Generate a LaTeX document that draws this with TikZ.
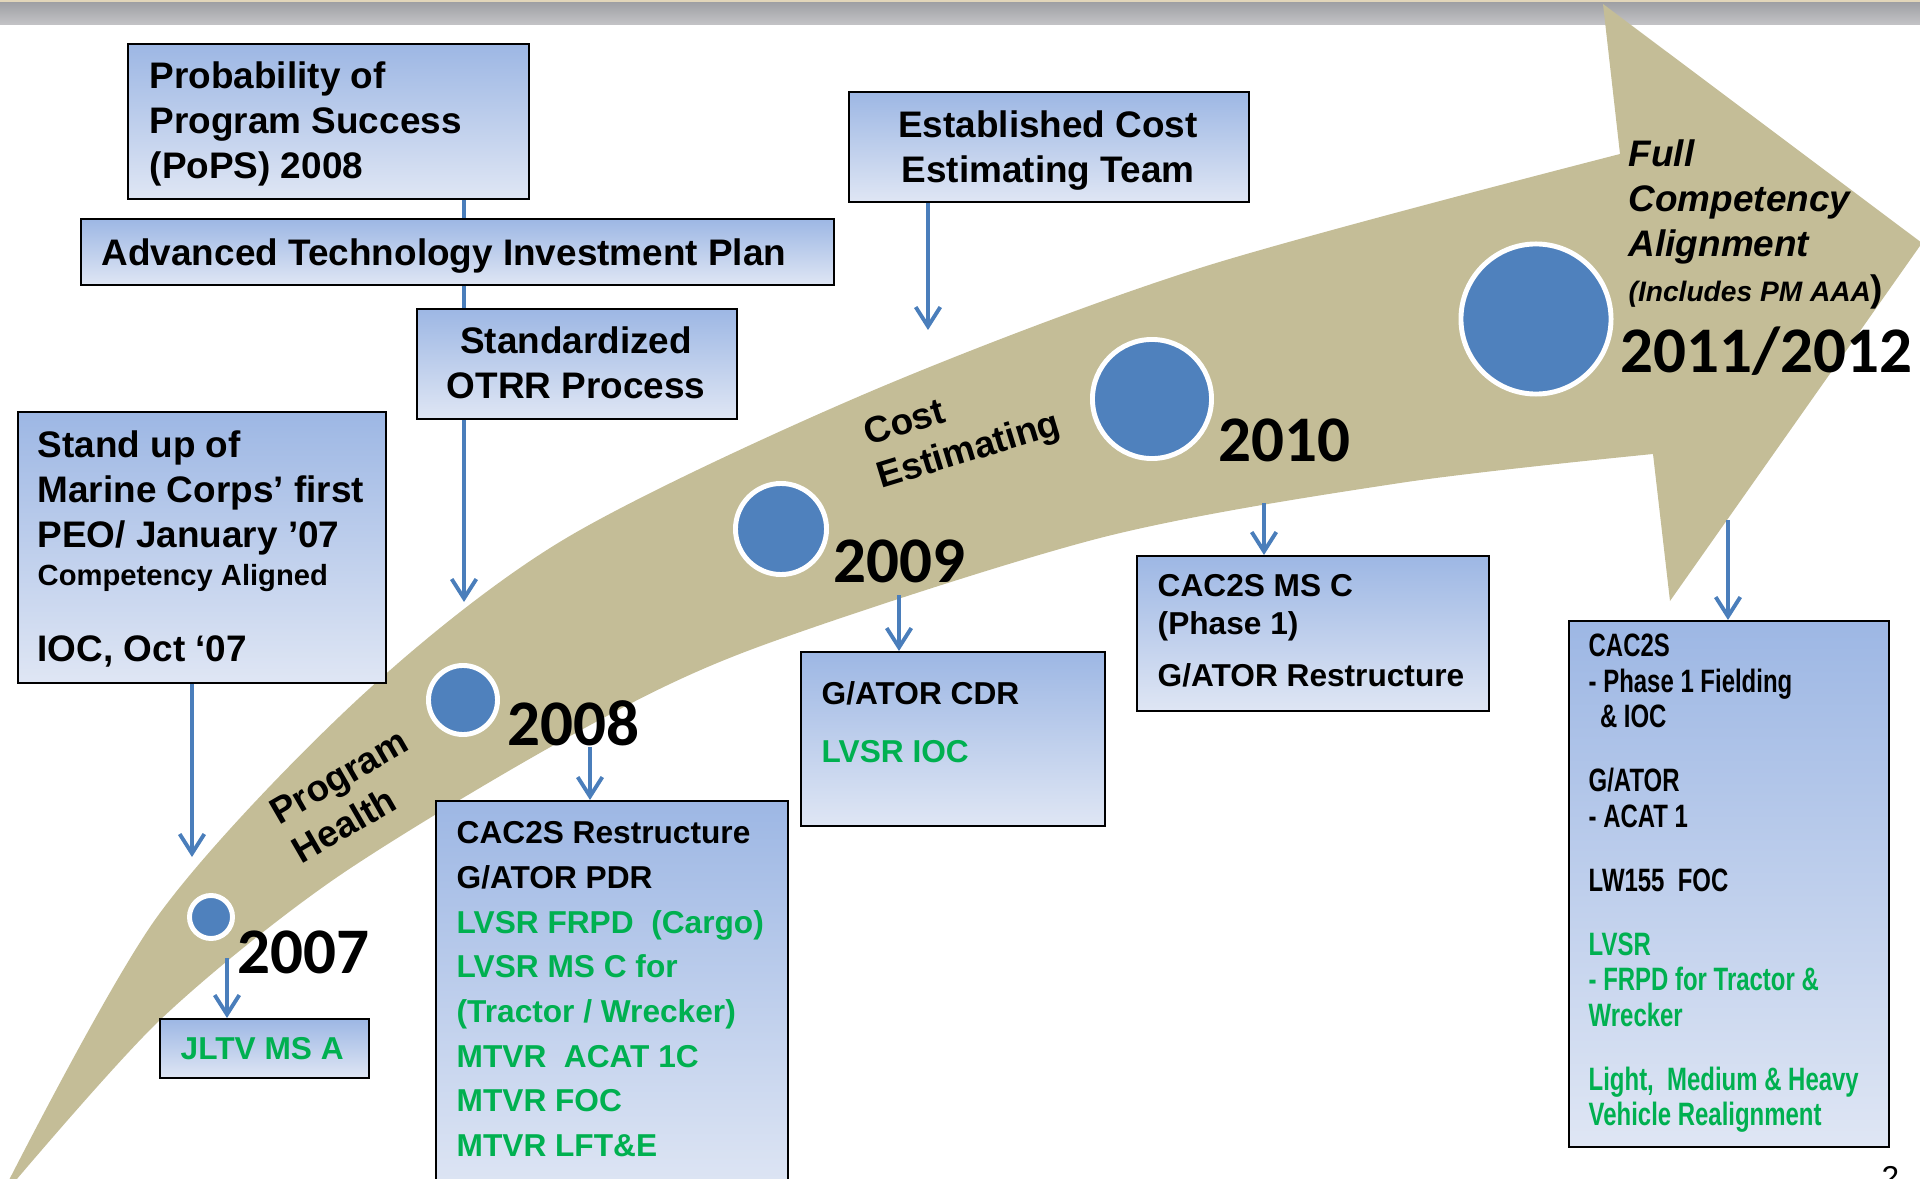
\documentclass[tikz,border=0pt]{standalone}
\usepackage{fontspec}
\setmainfont{Liberation Sans}
\newfontfamily\yearfont{Carlito}
\newfontfamily\tightfont[FakeStretch=0.74]{Liberation Sans}
\usetikzlibrary{arrows.meta}

\definecolor{bandtan}{RGB}{196,189,151}
\definecolor{dotblue}{RGB}{79,129,189}
\definecolor{linkblue}{RGB}{74,126,187}
\definecolor{boxtop}{RGB}{157,183,228}
\definecolor{boxbot}{RGB}{223,230,244}
\definecolor{goodgreen}{RGB}{0,176,80}
\definecolor{bartop}{RGB}{160,161,165}
\definecolor{barbot}{RGB}{196,196,199}
\definecolor{barline}{RGB}{226,214,186}

\newcommand{\lnstrut}{\rule{0pt}{0.8em}}
\newcommand{\grn}[1]{\textcolor{goodgreen}{#1}}
\newcommand{\bigbold}{\bfseries\fontsize{10.5}{12.8}\selectfont}
\newcommand{\tightbold}{\tightfont\bfseries\fontsize{9.2}{10.1}\selectfont}

\begin{document}
\begin{tikzpicture}[x=0.01cm, y=-0.01cm,
  box/.style={draw=black, line width=0.55pt, top color=boxtop, bottom color=boxbot, anchor=north west, inner sep=0pt},
  txt/.style={anchor=north west, inner sep=0pt, align=left},
  dot/.style={circle, fill=dotblue, draw=white, line width=1.4pt, inner sep=0pt},
  year/.style={anchor=base west, inner sep=0pt, font=\yearfont\bfseries\fontsize{18.5}{20}\selectfont},
  link/.style={draw=linkblue, line width=1.1pt},
  arr/.style={link, -{Straight Barb[length=5.5pt,width=7pt]}}]
\useasboundingbox (0,0) rectangle (1920,1179);

\fill[barline] (0,0) rectangle (1920,3);
\shade[top color=bartop, bottom color=barbot] (0,3) rectangle (1920,25);

\fill[bandtan] plot[smooth] coordinates {(6,1186) (157,917) (357,700) (563,540) (867,393) (1200,268) (1620,154)}
  -- (1603,4) -- (1922,243) -- (1670,601) -- (1653,454)
  -- plot[smooth] coordinates {(1653,454) (1400,483) (1100,538) (750,650) (563,740) (333,880) (160,1020) (11,1186)}
  -- cycle;

\node[dot, minimum size=0.43cm] (C07) at (211,917) {};
\node[dot, minimum size=0.69cm] (C08) at (463,700) {};
\node[dot, minimum size=0.91cm] (C09) at (781,529) {};
\node[dot, minimum size=1.19cm] (C10) at (1152,399) {};
\node[dot, minimum size=1.50cm] (C11) at (1536,319) {};

\node[year] (Y07) at (237,973) {2007};
\node[year] (Y08) at (507,745) {2008};
\node[year] (Y09) at (833,583) {2009};
\node[year] (Y10) at (1218,462) {2010};
\node[year] (Y11) at (1620,373) {2011/2012};

\node[rotate=30, align=left, font=\bigbold] (Health) at (350,796) {Program\\Health};
\node[rotate=17, align=left, font=\bigbold] (Cost) at (963,431) {Cost\\Estimating};
\node[txt, font=\bfseries\itshape\fontsize{10.5}{12.8}\selectfont] (Full) at (1628,136.5) {\lnstrut Full\\Competency\\Alignment\\{\fontsize{8}{9.6}\selectfont(Includes PM AAA}{\upshape)}};

\coordinate (Spine) at (464,602);
\coordinate (PEOend) at (192,857);
\coordinate (CETend) at (928,330);
\coordinate (S07) at (227,958);
\coordinate (S08) at (590,747);
\coordinate (S09) at (899,595);
\coordinate (S10) at (1264,503);
\coordinate (S11) at (1728,520);

\node[box, minimum width=4.01cm, minimum height=1.55cm] (PoPS) at (127,43) {};
\node[box, minimum width=7.53cm, minimum height=0.66cm] (ATIP) at (80,218) {};
\node[box, minimum width=3.20cm, minimum height=1.10cm] (OTRR) at (416,308) {};
\node[box, minimum width=4.00cm, minimum height=1.10cm] (CET) at (848,91) {};
\node[box, minimum width=3.68cm, minimum height=2.71cm] (PEO) at (17,411) {};
\node[box, minimum width=2.09cm, minimum height=0.59cm] (JLTV) at (159,1018) {};
\node[box, minimum width=3.52cm, minimum height=3.95cm] (R08) at (435,800) {};
\node[box, minimum width=3.04cm, minimum height=1.74cm] (R09) at (800,651) {};
\node[box, minimum width=3.52cm, minimum height=1.55cm] (R10) at (1136,555) {};
\node[box, minimum width=3.20cm, minimum height=5.26cm] (R11) at (1568,620) {};

\draw[link] (PoPS.south -| Spine) -- (ATIP.north -| Spine);
\draw[link] (ATIP.south -| Spine) -- (OTRR.north -| Spine);
\draw[arr] (OTRR.south -| Spine) -- (Spine);
\draw[arr] (PEO.south -| PEOend) -- (PEOend);
\draw[arr] (CET.south -| CETend) -- (CETend);
\draw[arr] (S07) -- (S07 |- JLTV.north);
\draw[arr] (S08) -- (S08 |- R08.north);
\draw[arr] (S09) -- (S09 |- R09.north);
\draw[arr] (S10) -- (S10 |- R10.north);
\draw[arr] (S11) -- (S11 |- R11.north);

\node[txt, font=\bigbold] (PoPSt) at (149,58.5) {\lnstrut Probability of\\Program Success\\(PoPS) 2008};
\node[txt, font=\bigbold] (ATIPt) at (101,235.5) {\lnstrut Advanced Technology Investment Plan};
\node[txt, anchor=north, align=center, font=\bigbold] (OTRRt) at (576,323.5) {\lnstrut Standardized\\OTRR Process};
\node[txt, anchor=north, align=center, font=\bigbold] (CETt) at (1048,107.5) {\lnstrut Established Cost\\Estimating Team};
\node[txt, font=\bigbold] (PEOt) at (37,427.5) {\lnstrut Stand up of\\Marine Corps’ first\\PEO/ January ’07\\[-2.1pt]{\fontsize{8.3}{10}\selectfont Competency Aligned}\\[8.9pt]IOC, Oct ‘07};
\node[txt, font=\bfseries\fontsize{9}{11}\selectfont] (JLTVt) at (180,1033.7) {\lnstrut\grn{JLTV MS A}};
\node[txt, font=\bfseries\fontsize{9}{12.7}\selectfont] (R08t) at (456,817.7) {\lnstrut CAC2S Restructure\\G/ATOR PDR\\\grn{LVSR FRPD\ \ (Cargo)}\\\grn{LVSR MS C for}\\\grn{(Tractor / Wrecker)}\\\grn{MTVR\ \ ACAT 1C}\\\grn{MTVR FOC}\\\grn{MTVR LFT\&E}};
\node[txt, font=\bfseries\fontsize{9}{16.5}\selectfont] (R09t) at (821,678.7) {\lnstrut G/ATOR CDR\\\grn{LVSR IOC}};
\node[txt, font=\bfseries\fontsize{9}{10.8}\selectfont] (R10t) at (1157,570.7) {\lnstrut CAC2S MS C\\(Phase 1)\\[4pt]G/ATOR Restructure};
\node[txt, font=\tightbold] (R11t) at (1588,630) {\lnstrut CAC2S\\- Phase 1 Fielding\\\hspace{0.35em}\& IOC\\[8.1pt]G/ATOR\\- ACAT 1\\[8.1pt]LW155\ \ FOC\\[8.1pt]\grn{LVSR}\\\grn{- FRPD for Tractor \&}\\\grn{Wrecker}\\[8.1pt]\grn{Light,\ \ Medium \& Heavy}\\\grn{Vehicle Realignment}};

\node[anchor=base west, inner sep=0pt, font=\fontsize{9}{9}\selectfont] (Page) at (1881,1188) {2};
\end{tikzpicture}
\end{document}
